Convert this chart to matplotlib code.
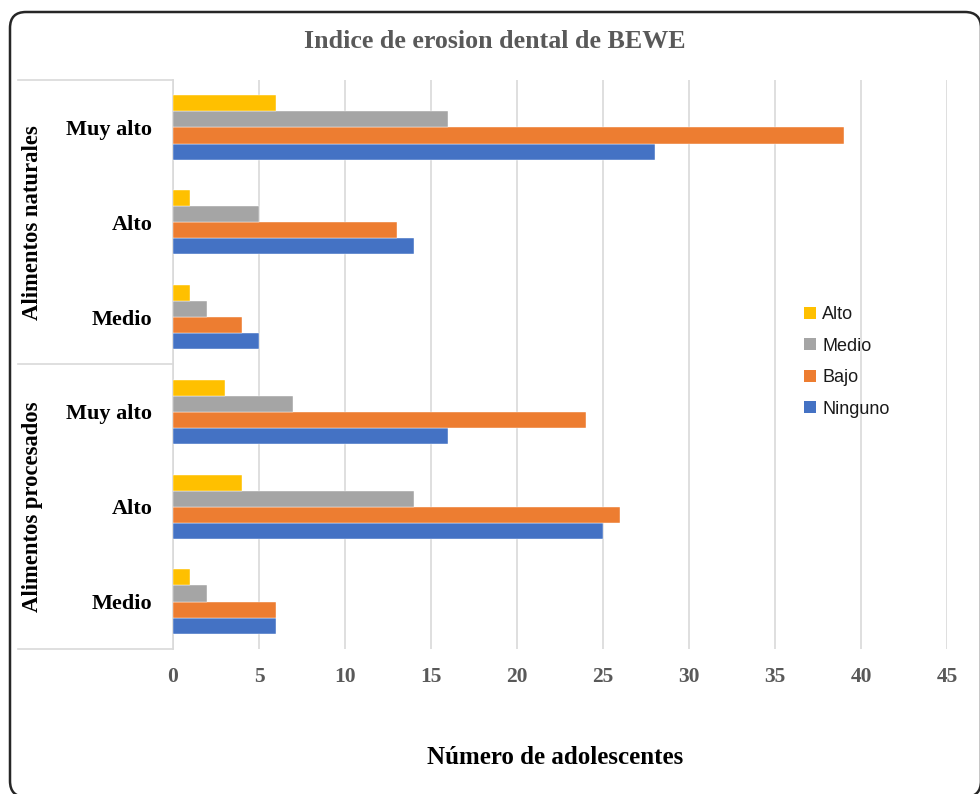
import matplotlib
matplotlib.use("Agg")
import matplotlib.pyplot as plt
import matplotlib.transforms as mtransforms
from matplotlib.patches import FancyBboxPatch, Patch
import numpy as np

# ---- data ----
categories = ["Medio", "Alto", "Muy alto", "Medio", "Alto", "Muy alto"]  # bottom -> top
groups = ["Alimentos procesados", "Alimentos naturales"]
series_names = ["Ninguno", "Bajo", "Medio", "Alto"]
ninguno = [6, 25, 16, 5, 14, 28]
bajo = [6, 26, 24, 4, 13, 39]
medio = [2, 14, 7, 2, 5, 16]
alto = [1, 4, 3, 1, 1, 6]
xticks = [0, 5, 10, 15, 20, 25, 30, 35, 40, 45]
title = "Indice de erosion dental de BEWE"
xlabel = "Número de adolescentes"

colors = {"Ninguno": "#4472C4", "Bajo": "#ED7D31", "Medio": "#A5A5A5", "Alto": "#FFC000"}
serif = ["Liberation Serif", "DejaVu Serif"]
sans = ["Liberation Sans", "DejaVu Sans"]

fig = plt.figure(figsize=(9.8, 7.94), dpi=100)
ax = fig.add_axes([173 / 980, 1 - 649 / 794, 774 / 980, 569 / 794])

y = np.arange(len(categories))
h = 0.17
offsets = [-1.5 * h, -0.5 * h, 0.5 * h, 1.5 * h]
values = [ninguno, bajo, medio, alto]
for name, vals, off in zip(series_names, values, offsets):
    ax.barh(y + off, vals, height=h, color=colors[name], label=name, zorder=3,
            edgecolor="white", linewidth=0.3)

ax.set_xlim(0, 45)
ax.set_ylim(-0.5, len(categories) - 0.5)
ax.set_xticks(xticks)
ax.set_xticklabels([str(t) for t in xticks], fontfamily=serif, fontweight="bold",
                   fontsize=15.5, color="#595959")
ax.set_yticks(y)
ax.set_yticklabels(categories, fontfamily=serif, fontweight="bold", fontsize=16, color="black")
ax.tick_params(axis="y", length=0, pad=15)
ax.tick_params(axis="x", length=0, pad=13)
ax.grid(axis="x", color="#D9D9D9", linewidth=1.2, zorder=0)
for s in ["top", "right", "bottom"]:
    ax.spines[s].set_visible(False)
ax.spines["left"].set_color("#D9D9D9")
ax.spines["left"].set_linewidth(1.2)

# group separators
trans = mtransforms.blended_transform_factory(ax.transAxes, ax.transData)
x_left = (18 - 173) / 774
for yy in [-0.5, 2.5, 5.5]:
    ax.plot([x_left, 0], [yy, yy], transform=trans, color="#D9D9D9", linewidth=1.2,
            clip_on=False, zorder=1)
x_grp = (33 - 173) / 774
for gi, g in enumerate(groups):
    ax.text(x_grp, 1 + 3 * gi, g, transform=trans, rotation=90, ha="center", va="center",
            fontfamily=serif, fontweight="bold", fontsize=16.3, color="black")

# legend (top-to-bottom: Alto, Medio, Bajo, Ninguno)
handles = [Patch(facecolor=colors[n]) for n in ["Alto", "Medio", "Bajo", "Ninguno"]]
leg = ax.legend(handles, ["Alto", "Medio", "Bajo", "Ninguno"],
                loc="center left", bbox_to_anchor=((788 - 173) / 774, 1 - (362 - 80) / 569),
                frameon=False, prop={"family": sans, "size": 13},
                handlelength=0.65, handleheight=0.65, handletextpad=0.35, labelspacing=0.8)
for t in leg.get_texts():
    t.set_color("#1a1a1a")

fig.text(495 / 980, 1 - 42 / 794, title, ha="center", va="center", fontfamily=serif,
         fontweight="bold", fontsize=18.7, color="#595959")
fig.text(555 / 980, 1 - 758 / 794, xlabel, ha="center", va="center", fontfamily=serif,
         fontweight="bold", fontsize=18, color="black")

box = FancyBboxPatch((10, -3), 971, 785, boxstyle="round,pad=0,rounding_size=16",
                     transform=None, facecolor="none", edgecolor="#262626",
                     linewidth=1.8, clip_on=False)
fig.add_artist(box)

fig.savefig("out.png", dpi=100)
